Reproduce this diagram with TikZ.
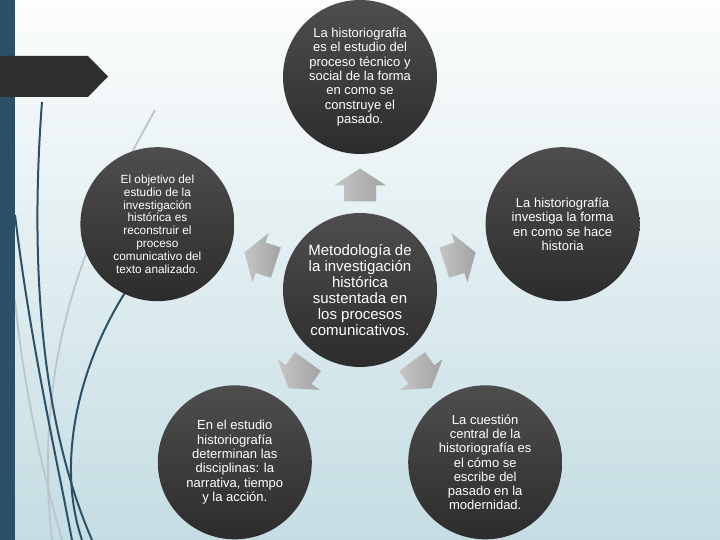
\documentclass[tikz,border=0pt]{standalone}
\usepackage{fontspec}
\setmainfont{Liberation Sans}
\usetikzlibrary{calc}
\definecolor{bgtop}{HTML}{FCFDFD}
\definecolor{bgbot}{HTML}{C4DDE3}
\definecolor{barcol}{HTML}{2C5065}
\definecolor{tabcol}{HTML}{2F2F2F}
\definecolor{decogray}{HTML}{B9C6CC}
\definecolor{circtop}{HTML}{4E4E4E}
\definecolor{circbot}{HTML}{2C2C2C}
\definecolor{arrlight}{HTML}{C6C6C6}
\definecolor{arrdark}{HTML}{A2A2A2}
\begin{document}
\begin{tikzpicture}[x=1pt,y=1pt,
  bubble/.style={circle, minimum size=154pt, inner sep=0pt, top color=circtop, bottom color=circbot,
    text=white, align=center, font=\fontsize{13}{14.3}\selectfont},
  deco/.style={line width=2pt, draw=barcol},
  decog/.style={line width=1.8pt, draw=decogray},
  grayarrow/.pic={\shade[left color=arrlight, right color=arrdark]
    (-16.5,-16) -- (-0.5,-16) -- (-0.5,-26) -- (16.5,0) -- (-0.5,26) -- (-0.5,16) -- (-16.5,16) -- cycle;}
]
\useasboundingbox (0,0) rectangle (720,540);
% background
\shade[top color=bgtop, bottom color=bgbot] (0,0) rectangle (720,540);
% decorative curves
\draw[decog] (155,430) .. controls (100,330) and (30,200) .. (52,0);
\draw[decog] (15,240) .. controls (25,140) and (45,60) .. (62,0);
\draw[deco] (42,438) .. controls (30,280) and (40,120) .. (92,0);
\draw[deco] (15,325) .. controls (30,200) and (55,90) .. (72,0);
\draw[deco] (130,255) .. controls (80,180) and (55,80) .. (82,0);
% left bar and tab
\fill[barcol] (0,0) rectangle (15,540);
\fill[tabcol] (0,484) -- (88,484) -- (108,463.5) -- (88,443) -- (0,443) -- cycle;
% centre
\coordinate (C) at (360,250);
\node[bubble, font=\fontsize{15}{16}\selectfont] (center) at (C)
  {Metodología de\\la investigación\\histórica\\sustentada en\\los procesos\\comunicativos.};
\node[bubble] (top) at ($(C)+(90:213pt)$)
  {La historiografía\\es el estudio del\\proceso técnico y\\social de la forma\\en como se\\construye el\\pasado.};
\node[bubble, font=\fontsize{11.8}{12.8}\selectfont] (left) at ($(C)+(162:213pt)$)
  {El objetivo del\\estudio de la\\investigación\\histórica es\\reconstruir el\\proceso\\comunicativo del\\texto analizado.};
\node[bubble] (right) at ($(C)+(18:213pt)$)
  {La historiografía\\investiga la forma\\en como se hace\\historia};
\node[bubble] (bl) at ($(C)+(234:213pt)$)
  {En el estudio\\historiografía\\determinan las\\disciplinas: la\\narrativa, tiempo\\y la acción.};
\node[bubble] (br) at ($(C)+(306:213pt)$)
  {La cuestión\\central de la\\historiografía es\\el cómo se\\escribe del\\pasado en la\\modernidad.};
% arrows
\foreach \a in {90,162,18,234,306}{
  \pic (arr\a) [rotate=\a] at ($(C)+(\a:105pt)$) {grayarrow};
}
\end{tikzpicture}
\end{document}
